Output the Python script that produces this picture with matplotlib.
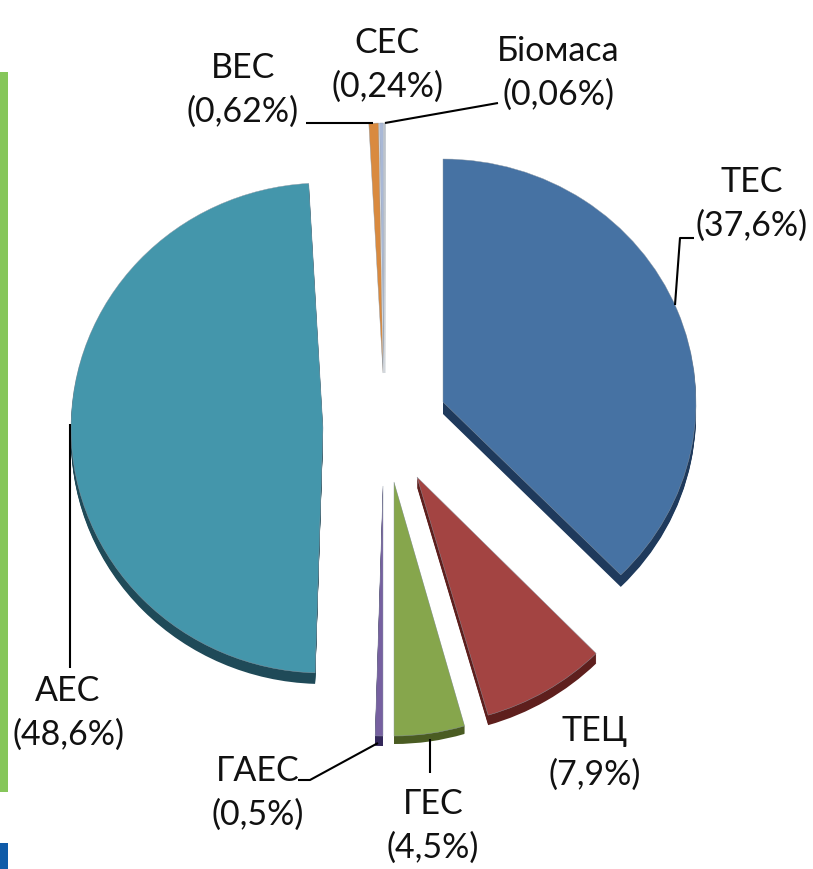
import matplotlib
matplotlib.use("Agg")
import matplotlib.pyplot as plt
from matplotlib.patches import Wedge, Rectangle
from matplotlib.transforms import Affine2D

plt.rcParams['font.family'] = ['Lato', 'Open Sans', 'DejaVu Sans']

W, H = 813, 869

# clockwise from 12 o'clock, as in the source pie
names = ['ТЕС', 'ТЕЦ', 'ГЕС', 'ГАЕС', 'АЕС', 'ВЕС', 'СЕС', 'Біомаса']
shares = [37.6, 7.9, 4.5, 0.5, 48.6, 0.62, 0.24, 0.06]
share_text = ['37,6', '7,9', '4,5', '0,5', '48,6', '0,62', '0,24', '0,06']
colors = ['#4672a3', '#a34442', '#86a64c', '#7660a0', '#4496ab', '#d98a3f', '#a9b8d6', '#c8cdd6']
side_colors = ['#1f3a5c', '#5e1f1d', '#4a5c22', '#33275a', '#1f4a58', '#8a5520', '#7a86a0', '#8a8f98']

# slice tips, radii, rim depth and label spots, in picture pixels
tips = [(443, 402), (417, 477), (394, 482), (383, 486), (323, 428), (383, 373), (384, 373), (385, 373)]
radii = [(253, 243), (255, 248), (253, 254), (251, 250), (252, 245), (251, 250), (251, 250), (251, 250)]
depths = [12, 10, 8, 10, 11, 0, 0, 0]
label_xy = [(752, 204), (595, 753), (433, 826), (258, 793), (68, 713), (243, 90), (387, 65), (558, 73)]
leaders = [
    ([675, 680, 694], [305, 238, 238]),
    None,
    ([430, 430], [739, 773]),
    ([298, 310, 378], [780, 780, 743]),
    ([70, 70], [424, 668]),
    ([306, 373], [123, 123]),
    None,
    ([385, 498], [123, 103]),
]

fig = plt.figure(figsize=(W / 100, H / 100), dpi=100)
ax = fig.add_axes([0, 0, 1, 1])
ax.set_xlim(0, W)
ax.set_ylim(H, 0)
ax.axis('off')

# edge of the slide behind the chart
ax.add_patch(Rectangle((0, 72), 8, 720, color='#86c65a', lw=0))
ax.add_patch(Rectangle((0, 843), 8, 26, color='#0f5ba8', lw=0))


def slice_at(x, y, rx, ry, t1, t2, **kw):
    # unit wedge stretched to the slightly flattened pie
    tr = Affine2D().scale(rx, ry).translate(x, y) + ax.transData
    ax.add_patch(Wedge((0, 0), 1, t1, t2, transform=tr, **kw))


start = 90.0
for i, share in enumerate(shares):
    sweep = share * 3.6
    # y axis runs downward here, so angles are mirrored
    t1, t2 = -start, -start + sweep
    x, y = tips[i]
    rx, ry = radii[i]
    for d in range(1, depths[i] + 1):
        slice_at(x, y + d, rx, ry, t1, t2, color=side_colors[i], lw=0, zorder=2)
    slice_at(x, y, rx, ry, t1, t2, facecolor=colors[i], edgecolor='#8f9aa5', lw=0.3, zorder=3)
    start -= sweep

for line in leaders:
    if line:
        ax.plot(line[0], line[1], color='black', lw=1.5, zorder=4, solid_capstyle='butt')

for name, txt, (x, y) in zip(names, share_text, label_xy):
    ax.text(x, y, f'{name}\n({txt}%)', ha='center', va='center', fontsize=24.5,
            linespacing=1.42, color='#111111', zorder=5)

fig.savefig('out.png', dpi=100)
